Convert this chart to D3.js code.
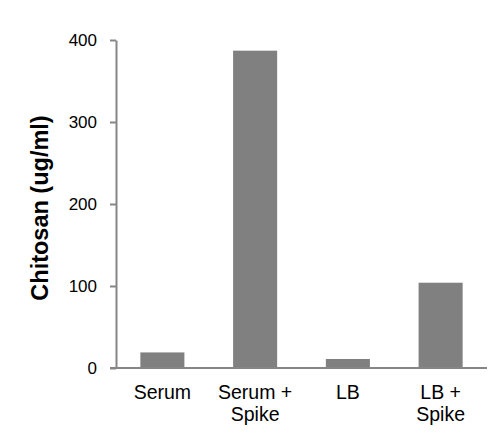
<!DOCTYPE html>
<html>
<head>
<meta charset="utf-8">
<script src="https://cdn.jsdelivr.net/npm/d3@7"></script>
<style>
  body { margin: 0; background: #fff; }
  svg text { font-family: "Liberation Sans", Arial, sans-serif; }
</style>
</head>
<body>
<div id="chart"></div>
<script>
// data
const categories = ["Serum", "Serum + Spike", "LB", "LB + Spike"];
const labelLines = [["Serum"], ["Serum +", "Spike"], ["LB"], ["LB +", "Spike"]];
const values = [19, 387, 11, 104];
const yTicks = [0, 100, 200, 300, 400];

const width = 501, height = 440;
const margin = { left: 116, right: 14, top: 40, bottom: 72 };

const svg = d3.select("#chart").append("svg")
  .attr("width", width)
  .attr("height", height);

const x = d3.scaleBand()
  .domain(categories)
  .range([margin.left, width - margin.right])
  .paddingInner(0.525)
  .paddingOuter(0.2625);

const y = d3.scaleLinear()
  .domain([0, 400])
  .range([height - margin.bottom, margin.top]);

// bars
svg.selectAll("rect.bar")
  .data(values)
  .enter()
  .append("rect")
  .attr("class", "bar")
  .attr("x", (d, i) => x(categories[i]))
  .attr("y", d => y(d))
  .attr("width", x.bandwidth())
  .attr("height", d => y(0) - y(d))
  .attr("fill", "#808080");

// y axis
const yAxis = svg.append("g")
  .attr("transform", `translate(${margin.left},0)`)
  .call(d3.axisLeft(y).tickValues(yTicks).tickSize(6).tickPadding(13).tickSizeOuter(0));
yAxis.select(".domain").attr("stroke", "#868686").attr("stroke-width", 2);
yAxis.selectAll(".tick line").attr("stroke", "#868686").attr("stroke-width", 2);
yAxis.selectAll(".tick text")
  .attr("fill", "#000")
  .style("font-size", "17px")
  .style("font-family", "'Liberation Sans', Arial, sans-serif");

// x axis line
svg.append("line")
  .attr("x1", margin.left - 6)
  .attr("x2", width - margin.right)
  .attr("y1", y(0))
  .attr("y2", y(0))
  .attr("stroke", "#868686")
  .attr("stroke-width", 2);

// category labels
const xl = svg.selectAll("text.cat")
  .data(categories)
  .enter()
  .append("text")
  .attr("class", "cat")
  .attr("x", d => x(d) + x.bandwidth() / 2)
  .attr("y", y(0) + 31)
  .attr("text-anchor", "middle")
  .style("font-size", "19.5px")
  .attr("fill", "#000");
xl.selectAll("tspan")
  .data((d, i) => labelLines[i])
  .enter()
  .append("tspan")
  .attr("x", function() { return this.parentNode.getAttribute("x"); })
  .attr("dy", (d, i) => i === 0 ? 0 : 22)
  .text(d => d);

// y label
svg.append("text")
  .attr("transform", `translate(48,${(margin.top + y(0)) / 2 + 4}) rotate(-90)`)
  .attr("text-anchor", "middle")
  .style("font-size", "23.5px")
  .style("font-weight", "bold")
  .text("Chitosan (ug/ml)");
</script>
</body>
</html>
